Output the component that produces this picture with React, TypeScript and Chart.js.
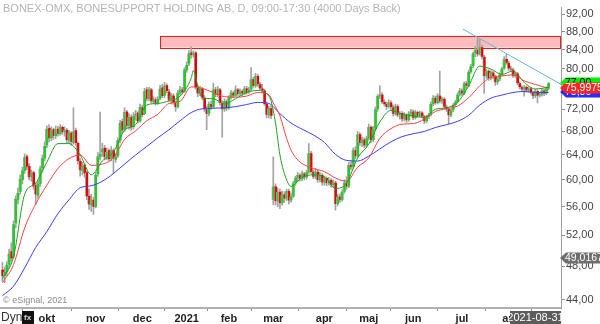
import React, { useEffect, useRef } from "react";
import { Chart, registerables } from "chart.js";

Chart.register(...registerables);

const TITLE = "BONEX-OMX, BONESUPPORT HOLDING AB, D, 09:00-17:30 (4000 Days Back)";
const LAST_DATE = "2021-08-31";

const opens = [
  47.6,46.8,47.3,48.2,49.9,49.2,53.6,57.0,58.2,60.0,61.4,63.8,62.2,60.4,61.2,59.2,57.6,59.4,61.8,63.4,
  65.6,68.6,66.8,68.4,67.2,68.5,67.6,68.8,67.8,68.3,66.4,67.8,66.0,68.2,66.0,63.0,61.4,62.4,61.2,57.6,
  56.2,57.0,56.0,60.9,63.6,64.4,65.2,63.6,64.8,63.4,64.8,63.2,63.8,66.4,69.8,68.2,71.6,69.0,70.6,68.8,
  70.8,71.4,69.8,72.4,71.2,75.8,74.0,75.8,73.4,73.9,73.2,74.0,76.2,74.6,76.6,75.4,73.8,74.6,73.2,72.4,
  75.0,75.8,75.4,79.6,81.0,83.4,82.8,83.4,76.2,75.0,76.0,74.2,72.0,71.2,73.0,72.4,75.8,74.8,75.8,73.2,
  72.0,73.5,72.2,74.3,75.2,74.6,75.8,74.9,75.5,75.0,76.0,75.2,75.8,77.8,76.5,78.5,76.8,76.0,75.6,73.0,
  71.0,72.2,57.0,59.0,56.8,58.2,56.5,57.8,57.2,58.3,56.9,57.5,59.5,60.3,60.8,60.2,61.0,60.4,61.2,64.3,
  61.3,60.5,61.3,60.0,60.8,59.6,60.3,59.5,60.0,59.2,59.6,56.4,57.5,57.0,58.2,59.6,59.0,62.4,62.0,64.8,
  63.8,67.5,66.0,66.6,65.6,66.8,68.8,66.5,68.5,72.0,74.5,74.8,73.4,73.0,72.5,73.3,72.4,71.2,72.6,70.9,
  71.3,70.2,71.0,70.0,71.2,71.6,70.4,71.5,70.8,71.4,70.7,69.8,70.6,71.0,73.0,74.2,73.2,74.6,73.5,74.0,
  72.5,72.0,70.9,71.8,72.8,73.4,74.8,75.6,75.0,77.0,76.5,79.3,80.5,83.2,84.0,83.0,84.5,82.5,78.5,79.5,
  78.0,79.2,78.4,77.2,77.8,78.8,80.0,82.0,81.2,80.0,79.8,78.5,79.0,77.0,76.3,75.8,76.3,75.6,76.0,75.2,
  74.5,75.5,74.6,74.8,75.6,75.0,76.0
];
const highs = [
  48.5,47.9,48.6,50.2,51.0,54.0,57.6,58.8,60.8,62.0,64.2,64.0,62.6,61.6,61.4,59.6,60.0,62.2,64.0,66.2,
  69.0,69.2,68.8,68.6,69.0,68.9,69.2,69.0,68.8,68.5,68.2,68.0,72.3,68.6,66.2,63.4,62.8,62.6,61.4,58.6,
  57.8,57.4,61.2,64.4,71.5,66.0,65.6,65.2,65.0,65.4,65.0,64.2,66.9,70.0,70.2,72.3,71.8,71.2,71.0,71.4,
  71.8,71.6,73.0,72.8,76.0,76.2,76.2,76.0,74.4,74.2,74.4,76.6,76.8,77.2,76.9,75.8,75.0,75.0,73.6,75.6,
  76.4,76.2,80.2,81.4,83.8,84.6,83.8,83.6,76.6,76.4,76.2,74.6,72.6,73.4,73.6,77.0,76.2,76.4,76.0,73.6,
  74.0,73.8,74.6,75.6,75.4,76.5,76.0,75.9,75.7,76.4,76.4,76.2,80.2,78.2,79.0,78.8,77.2,76.8,75.8,73.4,
  72.6,72.7,63.7,59.4,58.8,58.6,58.3,58.2,58.6,58.6,58.0,59.8,60.6,61.2,61.0,61.4,61.2,61.5,65.9,64.6,
  61.6,61.8,61.5,61.2,61.0,60.6,60.5,60.4,60.2,60.0,59.8,57.8,57.9,58.5,60.0,60.5,62.8,63.0,65.2,65.4,
  68.0,67.8,67.0,66.9,67.2,69.3,69.0,68.9,72.4,74.8,76.5,75.2,73.8,73.4,73.8,73.6,72.8,73.0,72.9,71.6,
  71.6,71.4,71.2,71.6,72.0,71.9,71.8,71.7,71.7,71.6,70.9,70.9,71.3,73.4,74.6,74.5,75.0,79.5,74.3,74.2,
  72.8,72.3,72.1,73.1,73.7,75.1,76.0,75.9,77.3,77.4,79.7,80.9,83.5,84.7,86.6,86.2,85.0,82.8,79.9,79.8,
  79.6,79.5,78.6,78.2,79.1,80.3,82.5,83.0,81.5,80.5,80.1,79.3,79.2,77.3,76.5,76.6,76.5,76.3,76.2,75.5,
  75.8,75.7,75.1,76.0,75.8,76.3,77.2
];
const lows = [
  46.2,46.0,46.9,47.8,48.6,49.0,53.0,56.4,57.8,59.4,61.0,61.6,60.0,59.8,58.6,56.3,57.2,59.0,61.2,63.0,
  65.2,66.2,66.4,66.6,66.8,67.2,67.3,67.5,67.2,66.0,66.0,65.6,65.8,65.6,62.5,60.6,60.8,60.4,57.0,55.6,
  55.3,54.9,55.8,60.6,63.2,63.8,63.2,63.2,63.0,63.0,61.0,62.8,63.6,66.0,67.8,68.0,68.6,68.4,68.2,68.4,
  70.0,69.5,69.6,70.6,71.0,73.6,73.6,73.2,73.0,72.8,72.9,73.8,74.2,74.2,75.1,73.5,73.0,72.9,71.6,72.2,
  74.8,74.9,75.2,79.2,80.6,82.2,82.4,75.8,74.4,74.6,73.8,71.6,68.3,70.8,72.0,72.2,74.4,74.4,72.8,67.0,
  71.6,71.8,72.0,73.9,74.2,74.4,74.6,74.6,74.6,74.8,74.9,75.0,75.6,76.2,76.2,76.4,75.6,75.2,72.8,70.4,
  70.4,70.3,56.3,56.2,56.0,55.7,56.2,56.6,56.9,56.4,56.6,57.3,59.2,59.8,59.8,59.9,60.0,60.1,61.0,61.0,
  60.2,60.2,59.6,59.7,59.2,59.2,59.1,59.2,58.9,58.9,55.5,56.1,56.6,56.8,58.0,58.6,58.8,61.6,61.8,63.4,
  63.6,65.6,65.4,65.2,65.3,66.5,66.0,66.2,68.2,71.6,74.0,73.0,72.6,72.0,72.2,72.0,70.8,70.9,70.6,70.2,
  69.8,69.9,69.6,69.8,70.8,70.1,70.2,70.5,70.6,70.4,69.4,69.5,70.3,70.8,72.7,72.9,73.0,73.2,73.1,72.2,
  71.6,69.4,70.6,71.5,72.5,73.2,74.5,74.6,74.8,76.0,76.3,79.0,80.2,82.5,82.6,82.8,82.0,75.0,78.0,77.6,
  77.7,77.9,76.6,76.8,77.5,78.5,79.8,80.9,79.6,79.4,78.2,78.2,76.7,75.9,75.5,74.5,75.3,75.3,74.9,74.0,
  74.2,73.2,74.3,74.5,74.6,74.8,75.7
];
const closes = [
  46.8,47.3,48.2,49.6,49.0,53.5,57.2,58.0,60.2,61.5,63.6,62.0,60.4,61.0,59.0,57.8,59.5,61.8,63.5,65.5,
  68.5,66.8,68.2,67.2,68.4,67.6,68.8,67.9,68.3,66.5,67.8,66.2,68.0,66.0,63.0,61.5,62.2,61.0,57.5,56.3,
  57.0,56.0,60.8,63.8,64.2,65.0,63.6,64.5,63.3,64.8,63.4,63.8,66.5,69.5,68.2,71.5,69.0,70.6,68.8,70.8,
  71.2,69.8,72.5,71.0,75.5,74.0,75.8,73.5,73.8,73.2,74.0,76.0,74.5,76.5,75.5,73.8,74.6,73.2,72.4,75.2,
  75.8,75.3,79.8,80.8,83.2,82.8,83.3,76.2,75.0,76.0,74.2,72.0,71.2,73.0,72.4,75.8,74.8,75.9,73.2,72.0,
  73.5,72.2,74.3,75.2,74.6,75.8,74.9,75.5,75.0,76.0,75.2,75.8,77.8,76.5,78.5,76.8,76.0,75.6,73.0,71.0,
  72.2,70.8,59.0,56.8,58.2,56.5,57.8,57.2,58.3,56.9,57.5,59.5,60.3,60.8,60.2,61.0,60.4,61.2,64.3,61.3,
  60.5,61.3,60.0,60.8,59.6,60.3,59.5,60.0,59.2,59.6,56.4,57.5,57.0,58.2,59.6,59.0,62.4,62.0,64.8,63.8,
  67.5,66.0,66.6,65.6,66.8,68.8,66.5,68.5,72.0,74.5,74.8,73.4,73.0,72.5,73.3,72.4,71.2,72.6,70.9,71.3,
  70.2,71.0,70.0,71.2,71.6,70.4,71.5,70.8,71.4,70.7,69.8,70.6,71.0,73.0,74.2,73.2,74.6,73.5,74.0,72.5,
  72.0,70.9,71.8,72.8,73.4,74.8,75.6,75.0,77.0,76.5,79.3,80.5,83.2,84.0,83.0,84.5,82.5,78.5,79.5,78.0,
  79.2,78.4,77.2,77.8,78.8,80.0,82.0,81.2,80.0,79.8,78.5,79.0,77.0,76.3,75.8,76.3,75.6,76.0,75.2,74.5,
  75.5,74.6,74.8,75.6,75.0,76.0,77.0
];

// moving averages (bar index, value)
const greenIdx = [0,5,10,15,20,25,30,35,40,45,50,55,60,65,70,75,80,85,86,88,90,95,100,105,110,115,120,121,123,125,127,130,135,140,145,150,155,160,165,170,175,180,185,190,195,200,205,210,215,220,225,230,235,240,246];
const greenVal = [46.5,49.2,57.8,59.5,62.8,65.9,65.9,64.0,60.8,63.0,64.5,68.2,69.2,72.8,73.1,73.6,74.5,78.0,79.6,76.5,74.2,74.0,73.0,74.0,75.2,75.6,74.5,73.6,69.5,64.0,61.0,59.0,60.4,60.8,60.5,58.7,59.5,63.5,65.8,69.7,71.8,71.1,70.8,70.5,72.0,72.3,73.3,76.5,80.5,79.9,78.8,79.5,77.2,75.9,76.2];
const redIdx = [0,5,10,15,20,25,30,35,40,45,50,55,60,65,70,75,80,85,90,95,100,105,110,115,120,122,125,128,130,132,135,140,145,150,155,160,165,170,175,180,185,190,195,200,205,210,215,220,225,230,235,240,246];
const redVal = [46.0,48.2,53.0,56.4,59.2,61.8,63.4,64.0,62.3,62.5,63.5,66.6,68.1,69.9,71.1,73.1,73.5,76.3,76.0,75.2,74.4,74.3,74.5,75.2,74.8,73.2,70.8,66.8,64.8,63.6,62.6,61.8,61.3,60.3,59.8,62.0,63.5,66.8,68.5,69.3,69.4,70.2,71.6,72.1,72.6,74.2,76.5,78.2,78.5,78.7,77.5,76.8,76.0];
const blueIdx = [0,5,10,15,20,25,30,35,40,45,50,55,60,65,70,75,80,85,90,95,100,105,110,115,120,125,130,135,140,145,150,155,160,165,170,175,180,185,190,195,200,205,210,215,220,225,230,235,240,246];
const blueVal = [44.5,45.6,47.8,50.4,52.5,55.0,57.0,58.8,59.1,59.8,61.0,62.5,64.0,65.4,66.9,68.3,69.9,71.4,72.1,72.2,72.3,72.5,72.9,73.3,73.1,71.2,69.5,68.4,67.4,66.1,64.1,63.1,63.0,63.8,65.0,66.2,67.1,67.6,68.0,68.7,69.2,69.8,70.9,72.8,74.1,74.7,75.2,75.4,75.2,75.2];

const trendIdx = [207.4, 251.6];
const trendVal = [88.6, 76.8];

const zoneStartIdx = 71;
const zoneLow = 84.45;
const zoneHigh = 87.05;

const xTickIdx = [20, 42, 63, 83, 102, 122, 145, 165, 185, 207, 228];
const xTickLabels = ["okt", "nov", "dec", "2021", "feb", "mar", "apr", "maj", "jun", "jul", "au"];
const yTicks = [44, 48, 52, 56, 60, 64, 68, 72, 76, 80, 84, 88, 92];

const priceTagVals = [75.3, 77.0, 75.9975, 49.0167];
const priceTagText = ["75,30", "77,00", "75,9975", "49,0167"];
const priceTagBg = ["#2a2aff", "#00f000", "#ff2424", "#6e6e6e"];
const priceTagFg = ["#ffffff", "#000000", "#ffffff", "#ffffff"];

const FONT = "'Liberation Sans', Arial, sans-serif";

export default function App() {
  const ref = useRef<HTMLCanvasElement | null>(null);

  useEffect(() => {
    document.body.style.margin = "0";
    const canvas = ref.current;
    if (!canvas) return;

    const idx = closes.map((_, i) => i);
    const wickData = idx.map((i) => ({ x: i, y: [lows[i], highs[i]] }));
    const bodyData = idx.map((i) => ({ x: i, y: [opens[i], closes[i]] }));
    const bodyColors = idx.map((i) => (closes[i] >= opens[i] ? "#22cc22" : "#e60000"));

    const overlay = {
      id: "overlay",
      beforeDatasetsDraw(chart: any) {
        const { ctx, chartArea, scales } = chart;
        const xs = scales.x, ys = scales.y;
        const x0 = xs.getPixelForValue(zoneStartIdx);
        const y0 = ys.getPixelForValue(zoneHigh);
        const y1 = ys.getPixelForValue(zoneLow);
        ctx.save();
        ctx.fillStyle = "rgba(255,176,176,0.85)";
        ctx.fillRect(x0, y0, chartArea.right - x0, y1 - y0);
        ctx.strokeStyle = "#e62020";
        ctx.lineWidth = 1;
        ctx.strokeRect(Math.round(x0) + 0.5, Math.round(y0) + 0.5, chartArea.right - Math.round(x0) - 1, Math.round(y1 - y0));
        ctx.restore();
      },
      afterDraw(chart: any) {
        const { ctx, chartArea, scales } = chart;
        const ys = scales.y;
        ctx.save();
        ctx.font = `11px ${FONT}`;
        ctx.fillStyle = "#b4b4b4";
        ctx.textBaseline = "middle";
        ctx.textAlign = "left";
        ctx.fillText(TITLE, 3, 9);
        ctx.font = `9px ${FONT}`;
        ctx.fillStyle = "#8a8a8a";
        ctx.fillText("\u00a9 eSignal, 2021", 3, 301);
        ctx.font = `12px ${FONT}`;
        ctx.fillStyle = "#333";
        ctx.fillText("Dyn", 1, 318);
        ctx.fillStyle = "#111";
        ctx.fillRect(22, 311, 12, 13);
        ctx.fillStyle = "#ddd";
        ctx.font = `bold 8px ${FONT}`;
        ctx.fillText("fx", 24, 318);
        ctx.fillStyle = "#5c5c5c";
        ctx.fillRect(510, 311, chartArea.right - 510, 13);
        ctx.fillStyle = "#fff";
        ctx.font = `11px ${FONT}`;
        ctx.textAlign = "center";
        ctx.fillText(LAST_DATE, (510 + chartArea.right) / 2, 318);
        ctx.textAlign = "left";
        const r = chartArea.right;
        priceTagVals.forEach((v, k) => {
          const cy = Math.round(ys.getPixelForValue(v));
          ctx.beginPath();
          ctx.moveTo(r - 1, cy);
          ctx.lineTo(r + 5, cy - 5.5);
          ctx.lineTo(600, cy - 5.5);
          ctx.lineTo(600, cy + 5.5);
          ctx.lineTo(r + 5, cy + 5.5);
          ctx.closePath();
          ctx.fillStyle = priceTagBg[k];
          ctx.fill();
          ctx.fillStyle = priceTagFg[k];
          ctx.font = `10.5px ${FONT}`;
          ctx.fillText(priceTagText[k], r + 4, cy + 0.5);
        });
        ctx.restore();
      },
    };

    const chart = new Chart(canvas, {
      type: "bar",
      data: {
        datasets: [
          {
            type: "bar",
            data: wickData as any,
            backgroundColor: "#a2a2a2",
            barThickness: 1,
            grouped: false,
            order: 5,
          } as any,
          {
            type: "bar",
            data: bodyData as any,
            backgroundColor: bodyColors,
            borderColor: "#a8a8a8",
            borderWidth: { left: 1, right: 0, top: 0, bottom: 0 },
            borderSkipped: false,
            barThickness: 3,
            minBarLength: 1,
            grouped: false,
            order: 4,
          } as any,
          {
            type: "line",
            data: blueIdx.map((x, k) => ({ x, y: blueVal[k] })),
            borderColor: "#3c3cff",
            borderWidth: 1,
            pointRadius: 0,
            cubicInterpolationMode: "monotone",
            order: 3,
          } as any,
          {
            type: "line",
            data: redIdx.map((x, k) => ({ x, y: redVal[k] })),
            borderColor: "#ff4040",
            borderWidth: 1,
            pointRadius: 0,
            cubicInterpolationMode: "monotone",
            order: 2,
          } as any,
          {
            type: "line",
            data: greenIdx.map((x, k) => ({ x, y: greenVal[k] })),
            borderColor: "#1ea01e",
            borderWidth: 1,
            pointRadius: 0,
            cubicInterpolationMode: "monotone",
            order: 1,
          } as any,
          {
            type: "line",
            data: trendIdx.map((x, k) => ({ x, y: trendVal[k] })),
            borderColor: "#62b8ea",
            borderWidth: 1,
            pointRadius: 0,
            order: 0,
          } as any,
        ],
      },
      options: {
        responsive: false,
        animation: false,
        events: [],
        layout: { padding: 0 },
        plugins: { legend: { display: false }, tooltip: { enabled: false } },
        scales: {
          x: {
            type: "linear",
            min: -1.1,
            max: 251.6,
            offset: false,
            afterBuildTicks: (axis: any) => {
              axis.ticks = xTickIdx.map((v) => ({ value: v }));
            },
            afterFit: (axis: any) => {
              axis.height = 16;
            },
            ticks: {
              autoSkip: false,
              maxRotation: 0,
              padding: 1,
              color: "#222",
              font: { family: FONT, size: 11, weight: "bold" },
              callback: (v: any) => {
                const k = xTickIdx.indexOf(Number(v));
                return k >= 0 ? xTickLabels[k] : "";
              },
            },
            grid: { drawOnChartArea: false, drawTicks: true, tickLength: 3, color: "#8c8c8c" },
            border: { display: true, color: "#b0b0b0", width: 2 },
          },
          y: {
            type: "logarithmic",
            position: "right",
            min: 43.1,
            max: 93.64,
            afterBuildTicks: (axis: any) => {
              axis.ticks = yTicks.map((v) => ({ value: v }));
            },
            afterFit: (axis: any) => {
              axis.width = 39;
            },
            ticks: {
              autoSkip: false,
              padding: 1,
              color: "#444",
              font: { family: FONT, size: 11 },
              callback: (v: any) => Number(v).toFixed(2).replace(".", ","),
            },
            grid: { drawOnChartArea: false, drawTicks: true, tickLength: 4, color: "#8c8c8c" },
            border: { display: true, color: "#a0a0a0", width: 1 },
          },
        },
      } as any,
      plugins: [overlay],
    });

    return () => chart.destroy();
  }, []);

  return (
    <div style={{ width: 600, height: 324, background: "#fff" }}>
      <canvas ref={ref} width={600} height={324} style={{ display: "block" }} />
    </div>
  );
}
